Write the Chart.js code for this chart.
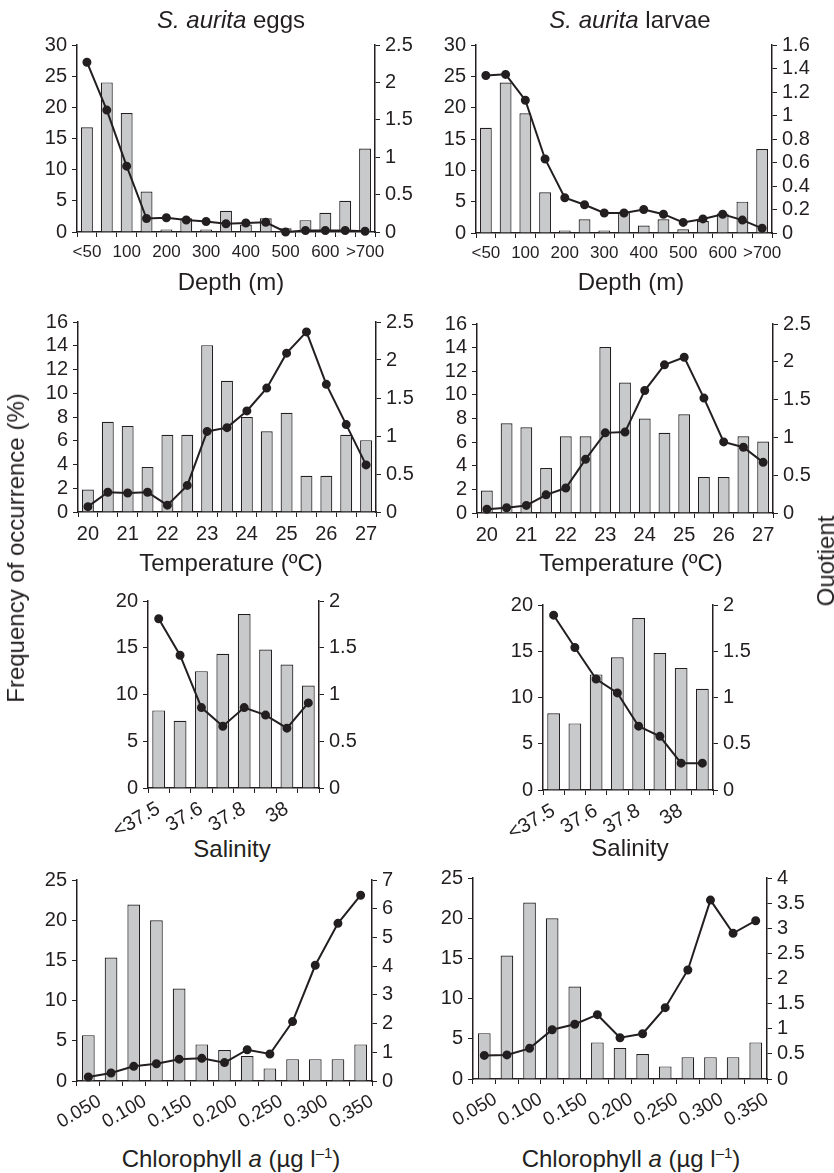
<!DOCTYPE html>
<html>
<head>
<meta charset="utf-8">
<title>S. aurita eggs and larvae</title>
<script src="https://cdn.jsdelivr.net/npm/chart.js@4.4.1/dist/chart.umd.min.js"></script>
<style>
  body { margin: 0; background: #fff; }
  #fig { position: relative; width: 834px; height: 1173px; overflow: hidden;
         font-family: 'Liberation Sans', Arial, sans-serif; color: #231f20; }
  #fig canvas { position: absolute; }
  .lbl { position: absolute; font-size: 24px; line-height: 24px; white-space: nowrap;
         transform: translate(-50%, -50%); }
  .rot { transform: translate(-50%, -50%) rotate(-90deg); }
  .lbl sup { font-size: 15px; line-height: 0; vertical-align: 9px; }
</style>
</head>
<body>
<div id="fig">
  <canvas id="eggsDepth"></canvas>
  <canvas id="larvaeDepth"></canvas>
  <canvas id="eggsTemp"></canvas>
  <canvas id="larvaeTemp"></canvas>
  <canvas id="eggsSal"></canvas>
  <canvas id="larvaeSal"></canvas>
  <canvas id="eggsChl"></canvas>
  <canvas id="larvaeChl"></canvas>

  <div class="lbl" style="left:231px; top:20px"><i>S. aurita</i> eggs</div>
  <div class="lbl" style="left:630px; top:20px"><i>S. aurita</i> larvae</div>
  <div class="lbl" style="left:231px; top:282px">Depth (m)</div>
  <div class="lbl" style="left:631px; top:282px">Depth (m)</div>
  <div class="lbl" style="left:231px; top:563px">Temperature (ºC)</div>
  <div class="lbl" style="left:631px; top:563px">Temperature (ºC)</div>
  <div class="lbl" style="left:232px; top:849px">Salinity</div>
  <div class="lbl" style="left:630px; top:848px">Salinity</div>
  <div class="lbl" style="left:231px; top:1159px">Chlorophyll <i>a</i> (µg l<sup>–1</sup>)</div>
  <div class="lbl" style="left:631px; top:1159px">Chlorophyll <i>a</i> (µg l<sup>–1</sup>)</div>
  <div class="lbl rot" style="left:16px; top:548px">Frequency of occurrence (%)</div>
  <div class="lbl rot" style="left:826px; top:561px">Quotient</div>
</div>

<script>
// tick labels (empty = unlabelled bin)
const depthLabels = ['<50', '', '100', '', '200', '', '300', '', '400', '', '500', '', '600', '', '>700'];
const tempLabels = ['20', '', '21', '', '22', '', '23', '', '24', '', '25', '', '26', '', '27'];
const salLabels = ['<37.5', '', '37.6', '', '37.8', '', '38', ''];
const chlLabels = ['0.050', '', '0.100', '', '0.150', '', '0.200', '', '0.250', '', '0.300', '', '0.350'];

// frequency of occurrence (%) - bars
const depthFreq = [16.8, 24.0, 19.1, 6.5, 0.4, 2.2, 0.4, 3.4, 1.2, 2.2, 0.6, 1.9, 3.1, 5.0, 13.4];
const tempFreq = [1.9, 7.6, 7.25, 3.8, 6.5, 6.5, 14.05, 11.05, 8.0, 6.8, 8.35, 3.05, 3.05, 6.5, 6.05];
const salFreq = [8.3, 7.2, 12.5, 14.35, 18.6, 14.8, 13.2, 10.95];
const chlFreq = [5.7, 15.35, 21.95, 20.0, 11.5, 4.55, 3.85, 3.1, 1.57, 2.72, 2.72, 2.72, 4.55];

// quotient - lines
const eggsDepthQ = [2.27, 1.63, 0.88, 0.18, 0.19, 0.16, 0.14, 0.11, 0.12, 0.13, 0.0, 0.02, 0.02, 0.02, 0.01];
const larvaeDepthQ = [1.34, 1.35, 1.13, 0.63, 0.30, 0.24, 0.17, 0.17, 0.20, 0.16, 0.09, 0.12, 0.16, 0.11, 0.04];
const eggsTempQ = [0.07, 0.26, 0.25, 0.26, 0.09, 0.35, 1.06, 1.11, 1.33, 1.63, 2.09, 2.37, 1.68, 1.15, 0.62];
const larvaeTempQ = [0.05, 0.07, 0.10, 0.24, 0.33, 0.71, 1.06, 1.07, 1.62, 1.96, 2.06, 1.52, 0.94, 0.87, 0.67];
const eggsSalQ = [1.81, 1.42, 0.86, 0.66, 0.86, 0.78, 0.64, 0.91];
const larvaeSalQ = [1.89, 1.54, 1.20, 1.05, 0.69, 0.58, 0.29, 0.29];
const eggsChlQ = [0.14, 0.28, 0.51, 0.60, 0.76, 0.79, 0.64, 1.09, 0.94, 2.07, 4.03, 5.49, 6.47];
const larvaeChlQ = [0.47, 0.48, 0.61, 0.98, 1.09, 1.28, 0.82, 0.90, 1.42, 2.17, 3.56, 2.90, 3.15];

const ink = '#231f20';
const barFill = '#c8c9cb';

Chart.defaults.font.family = "'Liberation Sans', Arial, sans-serif";
Chart.defaults.color = ink;

const fmt = v => String(+v.toFixed(2));

// box: canvas rect (x,y,w,h) and wanted chart area edges (l,r,t,b) in page px
function panel(id, box, labels, freq, quot, o) {
    const canvas = document.getElementById(id);
    canvas.width = box.w;
    canvas.height = box.h;
    canvas.style.left = box.x + 'px';
    canvas.style.top = box.y + 'px';
    canvas.style.width = box.w + 'px';
    canvas.style.height = box.h + 'px';

    const leftW = box.l - box.x;
    const rightW = box.x + box.w - box.r;
    const topPad = box.t - box.y;
    const bottomH = box.y + box.h - box.b;
    const binHalf = (box.r - box.l) / labels.length / 2;

    const yAxis = (pos, max, step, width) => ({
        position: pos,
        min: 0,
        max: max,
        ticks: { stepSize: step, autoSkip: false, padding: 5, font: { size: 20 }, callback: fmt },
        grid: { drawOnChartArea: false, tickLength: 5, color: ink, lineWidth: 1 },
        border: { display: true, color: ink, width: 1.5 },
        afterFit: s => { s.width = width; }
    });

    new Chart(canvas, {
        type: 'bar',
        data: {
            labels: labels,
            datasets: [
                {
                    type: 'line',
                    data: quot,
                    yAxisID: 'y1',
                    order: 0,
                    borderColor: ink,
                    borderWidth: 2,
                    pointRadius: 3.5,
                    pointBackgroundColor: ink,
                    pointBorderColor: ink,
                    tension: 0,
                    clip: false
                },
                {
                    type: 'bar',
                    data: freq,
                    yAxisID: 'y',
                    order: 1,
                    backgroundColor: barFill,
                    borderColor: ink,
                    borderWidth: 1.2,
                    barPercentage: o.barPct,
                    categoryPercentage: 1
                }
            ]
        },
        options: {
            responsive: false,
            animation: false,
            events: [],
            layout: { padding: { top: topPad, left: 0, right: 0, bottom: 0 } },
            plugins: { legend: { display: false }, tooltip: { enabled: false } },
            scales: {
                x: {
                    offset: true,
                    ticks: {
                        autoSkip: false,
                        minRotation: o.rot,
                        maxRotation: o.rot,
                        padding: o.rot ? 4 : 5,
                        labelOffset: o.shift ? binHalf : 0,
                        font: { size: o.xFont }
                    },
                    grid: { offset: true, drawOnChartArea: false, tickLength: 5, color: ink, lineWidth: 1 },
                    border: { display: true, color: ink, width: 1.5 },
                    afterFit: s => { s.height = bottomH; }
                },
                y: yAxis('left', o.yMax, o.yStep, leftW),
                y1: yAxis('right', o.qMax, o.qStep, rightW)
            }
        }
    });
}

const depthOpt = { rot: 0, xFont: 17, barPct: 0.6, yMax: 30, yStep: 5 };
const tempOpt = { rot: 0, xFont: 20, barPct: 0.6, yMax: 16, yStep: 2 };
const salOpt = { rot: 30, xFont: 20, barPct: 0.6, yMax: 20, yStep: 5, qMax: 2, qStep: 0.5 };
const chlOpt = { rot: 30, xFont: 19, barPct: 0.56, yMax: 25, yStep: 5, shift: true };

panel('eggsDepth', { x: 20, y: 28, w: 400, h: 244, l: 77, r: 375, t: 43, b: 232 },
    depthLabels, depthFreq, eggsDepthQ, { ...depthOpt, qMax: 2.5, qStep: 0.5 });
panel('larvaeDepth', { x: 420, y: 28, w: 400, h: 245, l: 476, r: 772, t: 43, b: 233 },
    depthLabels, depthFreq, larvaeDepthQ, { ...depthOpt, qMax: 1.6, qStep: 0.2 });
panel('eggsTemp', { x: 20, y: 305, w: 400, h: 247, l: 78, r: 376, t: 320, b: 512 },
    tempLabels, tempFreq, eggsTempQ, { ...tempOpt, qMax: 2.5, qStep: 0.5 });
panel('larvaeTemp', { x: 420, y: 307, w: 400, h: 246, l: 477, r: 773, t: 322, b: 513 },
    tempLabels, tempFreq, larvaeTempQ, { ...tempOpt, qMax: 2.5, qStep: 0.5 });
panel('eggsSal', { x: 90, y: 584, w: 300, h: 250, l: 148, r: 319, t: 599, b: 788 },
    salLabels, salFreq, eggsSalQ, salOpt);
panel('larvaeSal', { x: 485, y: 588, w: 300, h: 250, l: 543, r: 713, t: 603, b: 790 },
    salLabels, salFreq, larvaeSalQ, salOpt);
panel('eggsChl', { x: 20, y: 863, w: 400, h: 270, l: 77, r: 372, t: 878, b: 1081 },
    chlLabels, chlFreq, eggsChlQ, { ...chlOpt, qMax: 7, qStep: 1 });
panel('larvaeChl', { x: 420, y: 861, w: 400, h: 270, l: 473, r: 767, t: 876, b: 1079 },
    chlLabels, chlFreq, larvaeChlQ, { ...chlOpt, qMax: 4, qStep: 0.5 });
</script>
</body>
</html>
